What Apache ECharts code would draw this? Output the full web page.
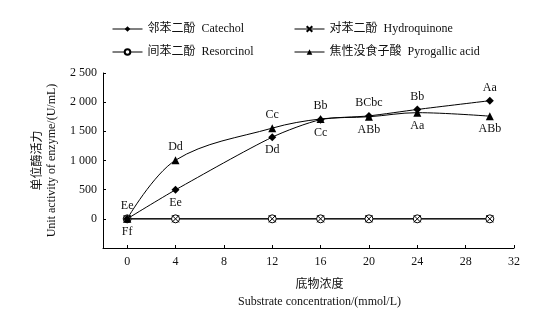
<!DOCTYPE html>
<html>
<head>
<meta charset="utf-8">
<script src="https://cdn.jsdelivr.net/npm/echarts@6/dist/echarts.min.js"></script>
<style>
  html, body { margin: 0; padding: 0; background: #fff; }
  #chart { width: 542px; height: 312px; }
</style>
</head>
<body>
<div id="chart"></div>
<script>
// 底物浓度 (mmol/L)
const concentrations = [0, 4, 12, 16, 20, 24, 30]
const xTicks = [0, 4, 8, 12, 16, 20, 24, 28, 32]

const catechol = [0, 497, 1400, 1700, 1765, 1875, 2025]
const hydroquinone = [0, 0, 0, 0, 0, 0, 0]
const resorcinol = [0, 0, 0, 0, 0, 0, 0]
const pyrogallic = [0, 1005, 1555, 1712, 1750, 1820, 1760]

const catecholMarks = ['Ff', 'Ee', 'Dd', 'Cc', 'BCbc', 'Bb', 'Aa']
const pyrogallicMarks = ['Ee', 'Dd', 'Cc', 'Bb', 'ABb', 'Aa', 'ABb']

const names = ['邻苯二酚  Catechol', '对苯二酚  Hydroquinone', '间苯二酚  Resorcinol', '焦性没食子酸  Pyrogallic acid']

const FONT = '"Liberation Serif", "Noto Sans CJK SC", serif'
const crossPath = 'path://M0,0L10,10M10,0L0,10'

// 较高的一条曲线标在上方，相等时焦性没食子酸在上
function points(values, marks, other, isPyro) {
  return values.map((v, i) => {
    const top = v > other[i] || (v === other[i] && isPyro)
    return {
      value: [concentrations[i], v],
      label: { show: true, formatter: marks[i], position: top ? 'top' : 'bottom', distance: 3 },
    }
  })
}

function plain(values) {
  return values.map((v, i) => [concentrations[i], v])
}

const chart = echarts.init(document.getElementById('chart'), null, { renderer: 'canvas' })

const baseSeries = {
  type: 'line',
  symbolSize: 8,
  lineStyle: { color: '#000', width: 1 },
  itemStyle: { color: '#000' },
  emphasis: { disabled: true },
  animation: false,
  label: { color: '#111', fontFamily: FONT, fontSize: 12 },
  z: 3,
}

const legendBase = {
  orient: 'vertical',
  top: 18,
  itemGap: 11,
  itemWidth: 30,
  itemHeight: 7,
  lineStyle: { width: 1 },
  textStyle: { fontFamily: FONT, fontSize: 12, color: '#111' },
  selectedMode: false,
}

chart.setOption({
  textStyle: { fontFamily: FONT, color: '#111' },
  legend: [
    { ...legendBase, data: [names[0], names[2]], left: 107 },
    { ...legendBase, data: [names[1], names[3]], left: 289 },
  ],
  grid: { left: 103, right: 28, top: 73, bottom: 64, outerBoundsMode: 'none' },
  xAxis: {
    type: 'value',
    min: -2,
    max: 32,
    name: '底物浓度\nSubstrate concentration/(mmol/L)',
    nameLocation: 'middle',
    nameGap: 28,
    nameTextStyle: { fontFamily: FONT, fontSize: 12, color: '#111', lineHeight: 17, padding: [0, 0, 0, 22] },
    axisLine: { onZero: false, lineStyle: { color: '#000', width: 1 } },
    axisTick: { inside: true, length: 3, customValues: xTicks, lineStyle: { color: '#000' } },
    axisLabel: { customValues: xTicks, fontFamily: FONT, fontSize: 12, color: '#111', margin: 8 },
    splitLine: { show: false },
  },
  yAxis: {
    type: 'value',
    min: -500,
    max: 2500,
    interval: 500,
    name: '单位酶活力\nUnit activity of enzyme/(U/mL)',
    nameLocation: 'middle',
    nameRotate: 90,
    nameGap: 44,
    nameTextStyle: { fontFamily: FONT, fontSize: 12, color: '#111', lineHeight: 14 },
    axisLine: { show: true, onZero: false, lineStyle: { color: '#000', width: 1 } },
    axisTick: { inside: true, length: 3, lineStyle: { color: '#000' } },
    axisLabel: {
      fontFamily: FONT,
      fontSize: 12,
      color: '#111',
      margin: 6,
      formatter: (v) => (v < 0 ? '' : String(v).replace(/\B(?=(\d{3})+(?!\d))/g, ' ')),
    },
    splitLine: { show: false },
  },
  series: [
    {
      ...baseSeries,
      name: names[2],
      symbol: 'circle',
      itemStyle: { color: '#fff', borderColor: '#000', borderWidth: 1 },
      data: plain(resorcinol),
    },
    {
      ...baseSeries,
      name: names[1],
      symbol: crossPath,
      symbolSize: 7,
      itemStyle: { color: 'transparent', borderColor: '#000', borderWidth: 1 },
      data: plain(hydroquinone),
    },
    {
      ...baseSeries,
      name: names[0],
      symbol: 'diamond',
      smooth: 0.25,
      data: points(catechol, catecholMarks, pyrogallic, false),
    },
    {
      ...baseSeries,
      name: names[3],
      symbol: 'triangle',
      smooth: 0.35,
      data: points(pyrogallic, pyrogallicMarks, catechol, true),
    },
  ],
})
</script>
</body>
</html>
